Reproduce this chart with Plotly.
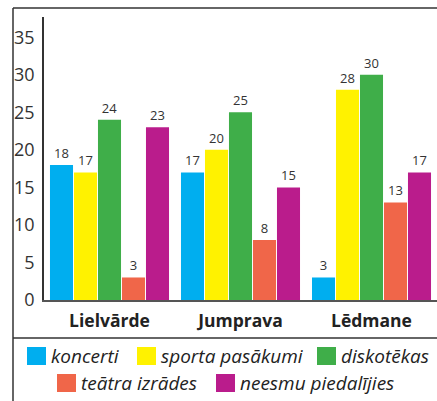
import plotly.graph_objects as go

categories = ["Lielvārde", "Jumprava", "Lēdmane"]
series_names = ["koncerti", "sporta pasākumi", "diskotēkas", "teātra izrādes", "neesmu piedalījies"]
koncerti = [18, 17, 3]
sporta = [17, 20, 28]
diskotekas = [24, 25, 30]
teatra = [3, 8, 13]
neesmu = [23, 15, 17]
y_ticks = [0, 5, 10, 15, 20, 25, 30, 35]

values = [koncerti, sporta, diskotekas, teatra, neesmu]
colors = ["#00AEEF", "#FFF200", "#3FAE49", "#F06649", "#BA1C8C"]

FONT = "Open Sans"
fig = go.Figure()
for name, vals, col in zip(series_names, values, colors):
    fig.add_trace(go.Bar(
        x=categories, y=vals, name=name, marker_color=col, marker_line_width=0,
        text=[str(v) for v in vals], textposition="outside", cliponaxis=False,
        textfont=dict(family=FONT, size=13, color="#333333"),
    ))

W, H = 437, 401
ml, mr, mt, mb = 44, 0, 17, 101
fig.update_layout(
    width=W, height=H, margin=dict(l=ml, r=mr, t=mt, b=mb, autoexpand=False),
    paper_bgcolor="white", plot_bgcolor="white",
    barmode="group", bargap=0.084, bargroupgap=0.04,
    showlegend=False,
    font=dict(family=FONT, color="#333333"),
    xaxis=dict(showline=True, linecolor="#555555", linewidth=2, ticks="",
               tickfont=dict(family=FONT, size=17.5, color="#222222", weight="bold"),
               ticklabelstandoff=4, showgrid=False),
    yaxis=dict(range=[0, 37.7], tickvals=y_ticks, showline=True, linecolor="#333333",
               linewidth=1.5, ticks="", showgrid=False, zeroline=False,
               tickfont=dict(family=FONT, size=18, color="#333333"), ticklabelstandoff=4),
)

ph = H - mt - mb
def py(ypx):
    return 1 - (ypx - mt) / ph
def px(xpx):
    return (xpx - ml) / (W - ml - mr)

shapes = []
# frame lines
shapes.append(dict(type="line", xref="paper", yref="paper", x0=px(13), x1=px(437), y0=py(8), y1=py(8),
                   line=dict(color="#333333", width=1.5)))
shapes.append(dict(type="line", xref="paper", yref="paper", x0=px(13), x1=px(13), y0=py(8), y1=py(401),
                   line=dict(color="#333333", width=1.5)))
shapes.append(dict(type="line", xref="paper", yref="paper", x0=px(13), x1=px(437), y0=py(338), y1=py(338),
                   line=dict(color="#333333", width=1.5)))

# legend (manual)
legend_items = [
    (0, 27, 356), (1, 137, 356), (2, 317, 356),
    (3, 57, 383), (4, 216, 383),
]
annotations = []
for idx, x0, yc in legend_items:
    shapes.append(dict(type="rect", xref="paper", yref="paper", x0=px(x0), x1=px(x0 + 19),
                       y0=py(yc - 9), y1=py(yc + 9), fillcolor=colors[idx], line_width=0))
    annotations.append(dict(xref="paper", yref="paper", x=px(x0 + 22), y=py(yc), xanchor="left",
                            yanchor="middle", showarrow=False, text="<i>" + series_names[idx] + "</i>",
                            font=dict(family=FONT, size=19, color="#222222")))
fig.update_layout(shapes=shapes, annotations=annotations)
fig.write_html("out.html", config={"displayModeBar": False},
               post_script="document.body.style.margin='0';")
